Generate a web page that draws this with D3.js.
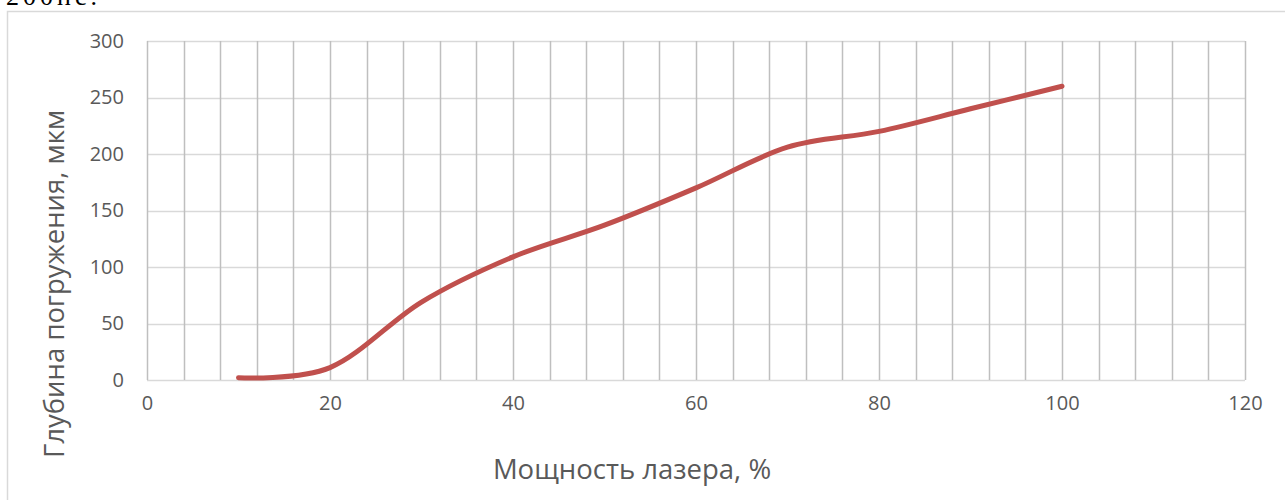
<!DOCTYPE html>
<html>
<head>
<meta charset="utf-8">
<script src="https://cdn.jsdelivr.net/npm/d3@7"></script>
<style>
  html, body { margin: 0; padding: 0; background: #fff; }
  svg { display: block; }
</style>
</head>
<body>
<svg id="chart" width="1285" height="500"></svg>
<script>
const powerValues = [10, 20, 30, 40, 50, 60, 70, 80, 90, 100];
const depthValues = [2, 11, 69, 109, 137, 170, 206, 220, 240, 260];
const xTickValues = [0, 20, 40, 60, 80, 100, 120];
const yTickValues = [0, 50, 100, 150, 200, 250, 300];
const xGridValues = d3.range(0, 121, 4);
const xTitle = "Мощность лазера, %";
const yTitle = "Глубина погружения, мкм";
const headText = "200нс.";

const svg = d3.select("#chart");
const plotLeft = 147, plotRight = 1245, plotTop = 41, plotBottom = 380;

const x = d3.scaleLinear().domain([0, 120]).range([plotLeft, plotRight]);
const y = d3.scaleLinear().domain([0, 300]).range([plotBottom, plotTop]);

// partial text at very top (cut off in the reference as well)
svg.append("text")
  .attr("x", 6).attr("y", 5)
  .attr("font-family", "Liberation Serif, Times New Roman, serif")
  .attr("font-size", 26)
  .attr("letter-spacing", 4)
  .attr("fill", "#000")
  .text(headText);

// chart frame
svg.append("rect")
  .attr("x", 7.5).attr("y", 11.5)
  .attr("width", 1300).attr("height", 520)
  .attr("fill", "none").attr("stroke", "#d9d9d9").attr("stroke-width", 1.5);

// horizontal gridlines
svg.append("g").selectAll("line").data(yTickValues).join("line")
  .attr("x1", plotLeft).attr("x2", plotRight)
  .attr("y1", d => Math.round(y(d)) + 0.5).attr("y2", d => Math.round(y(d)) + 0.5)
  .attr("stroke", "#d9d9d9").attr("stroke-width", 1.5);

// vertical gridlines
svg.append("g").selectAll("line").data(xGridValues).join("line")
  .attr("x1", d => Math.round(x(d)) + 0.5).attr("x2", d => Math.round(x(d)) + 0.5)
  .attr("y1", plotTop).attr("y2", plotBottom)
  .attr("stroke", "#bfbfbf").attr("stroke-width", 1.5);

// y axis labels
const yAxis = d3.axisLeft(y).tickValues(yTickValues).tickSize(0).tickPadding(23);
const gy = svg.append("g").attr("transform", `translate(${plotLeft},0)`).call(yAxis);
gy.select(".domain").remove();
gy.selectAll("text")
  .attr("font-family", "Open Sans, sans-serif")
  .attr("font-size", 20)
  .attr("fill", "#595959");

// x axis labels
const xAxis = d3.axisBottom(x).tickValues(xTickValues).tickSize(0).tickPadding(16);
const gx = svg.append("g").attr("transform", `translate(0,${plotBottom})`).call(xAxis);
gx.select(".domain").remove();
gx.selectAll("text")
  .attr("font-family", "Open Sans, sans-serif")
  .attr("font-size", 20)
  .attr("fill", "#595959");

// data line
const line = d3.line()
  .x((d, i) => x(powerValues[i]))
  .y(d => y(d))
  .curve(d3.curveCardinal.tension(0));

svg.append("path")
  .datum(depthValues)
  .attr("d", line)
  .attr("fill", "none")
  .attr("stroke", "#c0504d")
  .attr("stroke-width", 5)
  .attr("stroke-linecap", "round")
  .attr("stroke-linejoin", "round");

// axis titles
svg.append("text")
  .attr("x", 632).attr("y", 479)
  .attr("text-anchor", "middle")
  .attr("font-family", "Open Sans, sans-serif")
  .attr("font-size", 27.5)
  .attr("fill", "#595959")
  .text(xTitle);

svg.append("text")
  .attr("transform", "translate(64,284) rotate(-90)")
  .attr("text-anchor", "middle")
  .attr("font-family", "Open Sans, sans-serif")
  .attr("font-size", 27.5)
  .attr("fill", "#595959")
  .text(yTitle);
</script>
</body>
</html>
